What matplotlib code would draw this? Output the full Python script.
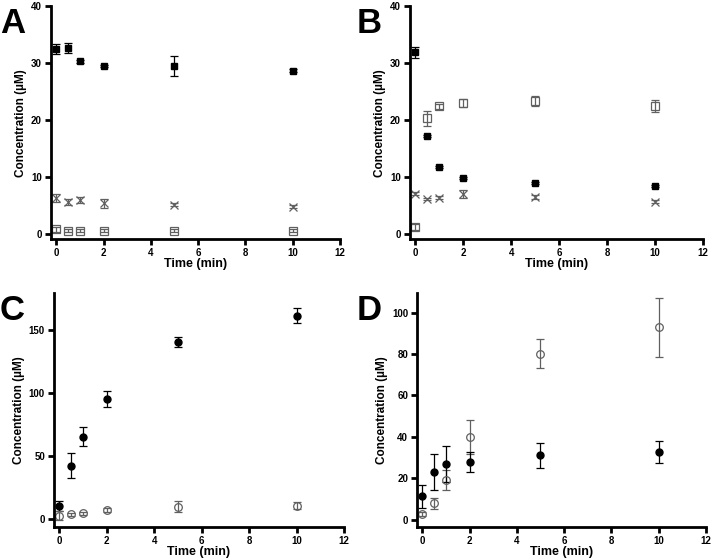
import matplotlib.pyplot as plt
import numpy as np

plt.rcParams['font.family'] = ['Liberation Sans', 'DejaVu Sans']
plt.rcParams['font.weight'] = 'bold'

t = [0, 0.5, 1, 2, 5, 10]

# panel A
a_fill = [32.5, 32.7, 30.3, 29.5, 29.5, 28.7]
a_fill_err = [0.9, 0.9, 0.2, 0.2, 1.8, 0.2]
a_x = [6.4, 5.6, 6.0, 5.4, 5.15, 4.8]
a_x_err = [0.7, 0.5, 0.5, 0.8, 0.3, 0.3]
a_open = [0.8, 0.6, 0.6, 0.6, 0.6, 0.6]
a_open_err = [0.4, 0.2, 0.2, 0.2, 0.2, 0.2]

# panel B
b_fill = [31.9, 17.2, 11.8, 9.8, 8.9, 8.4]
b_fill_err = [1.0, 0.2, 0.2, 0.2, 0.2, 0.2]
b_open = [1.2, 20.3, 22.4, 23.0, 23.4, 22.5]
b_open_err = [0.5, 1.3, 0.5, 0.7, 0.9, 1.0]
b_x = [7.1, 6.1, 6.4, 7.0, 6.5, 5.7]
b_x_err = [0.2, 0.2, 0.3, 0.7, 0.3, 0.3]

# panel C
c_fill = [10.6, 42.3, 65.3, 95.0, 140.2, 161.0]
c_fill_err = [4.0, 10.0, 7.5, 6.5, 4.0, 5.8]
c_open = [2.6, 3.7, 4.5, 7.1, 9.8, 10.6]
c_open_err = [3.7, 1.0, 1.0, 1.5, 4.5, 3.0]

# panel D
d_fill = [11.3, 23.0, 27.0, 27.9, 31.2, 32.5]
d_fill_err = [5.6, 8.8, 8.8, 4.9, 6.0, 5.3]
d_open = [2.6, 8.0, 19.3, 40.0, 80.0, 92.9]
d_open_err = [1.0, 2.7, 4.8, 8.2, 7.0, 14.2]

grey = '#606060'

fig = plt.figure(figsize=(7.13, 5.6), dpi=100)
axA = fig.add_axes([0.0715, 0.573, 0.4055, 0.416])
axB = fig.add_axes([0.575, 0.573, 0.411, 0.416])
axC = fig.add_axes([0.0757, 0.059, 0.4068, 0.418])
axD = fig.add_axes([0.585, 0.059, 0.405, 0.418])


def style(ax, ylim, yticks, letter, lx):
    ax.set_xlim(-0.22, 12)
    ax.set_ylim(*ylim)
    ax.set_xticks(range(0, 13, 2))
    ax.set_yticks(yticks)
    for s in ['top', 'right']:
        ax.spines[s].set_visible(False)
    ax.spines['left'].set_linewidth(2)
    ax.spines['bottom'].set_linewidth(2)
    ax.tick_params(width=2, length=4.5, labelsize=7, pad=2)
    for lab in ax.get_xticklabels() + ax.get_yticklabels():
        lab.set_fontweight('bold')
    ax.set_xlabel('Time (min)', fontsize=9, fontweight='bold', labelpad=0)
    ax.set_ylabel('Concentration (µM)', fontsize=8.5, fontweight='bold', labelpad=3)
    fig.text(lx, ax.get_position().y1 - 0.002, letter, fontsize=25, fontweight='bold', va='top', ha='left')


def filled(ax, y, e, m):
    ax.errorbar(t, y, yerr=e, fmt='none', ecolor='black', capsize=3, elinewidth=0.9, capthick=0.9, zorder=2)
    ax.plot(t, y, m, color='black', ms=5, ls='none', zorder=3)


def hollow(ax, y, e, m):
    ax.errorbar(t, y, yerr=e, fmt=m, mfc='none', mec=grey, color=grey, ms=5.5, mew=0.9,
                capsize=3, elinewidth=0.9, capthick=0.9)


filled(axA, a_fill, a_fill_err, 's')
hollow(axA, a_x, a_x_err, 'x')
hollow(axA, a_open, a_open_err, 's')
style(axA, (-0.9, 40), [0, 10, 20, 30, 40], 'A', 0.0)

filled(axB, b_fill, b_fill_err, 's')
hollow(axB, b_open, b_open_err, 's')
hollow(axB, b_x, b_x_err, 'x')
style(axB, (-0.9, 40), [0, 10, 20, 30, 40], 'B', 0.5)

filled(axC, c_fill, c_fill_err, 'o')
hollow(axC, c_open, c_open_err, 'o')
style(axC, (-6.3, 179), [0, 50, 100, 150], 'C', 0.0)

hollow(axD, d_open, d_open_err, 'o')
filled(axD, d_fill, d_fill_err, 'o')
style(axD, (-3.5, 109.5), [0, 20, 40, 60, 80, 100], 'D', 0.5)

fig.savefig('out.png', dpi=100)
